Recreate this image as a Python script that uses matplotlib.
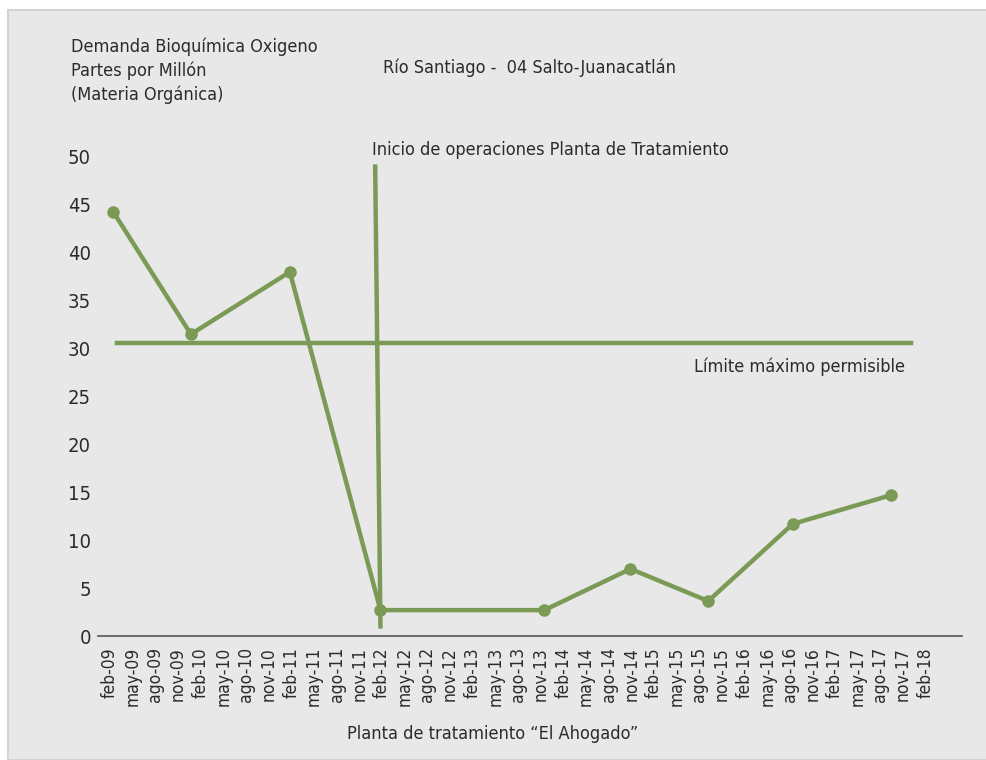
import matplotlib.pyplot as plt
from matplotlib.patches import Rectangle

# datos (x en meses desde feb-09)
meses = [0.4, 10.7, 23.8, 35.8, 57.5, 68.9, 79.2, 90.4, 103.4]
dbo = [44.3, 31.5, 38.0, 2.7, 2.7, 7.0, 3.65, 11.7, 14.7]

limite = 30.6
limite_x = [0.9, 106.0]
inicio_x = [35.1, 35.8]
inicio_y = [49.0, 1.0]

etiquetas = ['feb-09', 'may-09', 'ago-09', 'nov-09',
             'feb-10', 'may-10', 'ago-10', 'nov-10',
             'feb-11', 'may-11', 'ago-11', 'nov-11',
             'feb-12', 'may-12', 'ago-12', 'nov-12',
             'feb-13', 'may-13', 'ago-13', 'nov-13',
             'feb-14', 'may-14', 'ago-14', 'nov-14',
             'feb-15', 'may-15', 'ago-15', 'nov-15',
             'feb-16', 'may-16', 'ago-16', 'nov-16',
             'feb-17', 'may-17', 'ago-17', 'nov-17',
             'feb-18']
yticks = [0, 5, 10, 15, 20, 25, 30, 35, 40, 45, 50]

verde = '#7b9a56'
gris = '#e7e8e7'
texto = '#2b2b2b'

plt.rcParams['font.family'] = ['DejaVu Sans']
plt.rcParams['font.stretch'] = 'condensed'

fig = plt.figure(figsize=(9.87, 7.60), dpi=100, facecolor='white')
fig.patches.append(Rectangle((8 / 987, 0), 1, 1 - 10 / 760, transform=fig.transFigure,
                             facecolor=gris, edgecolor='#d2d3d2', lw=1.5, zorder=-5))

ax = fig.add_axes([98 / 987, (760 - 636) / 760, 864 / 987, (636 - 157) / 760])
ax.set_facecolor('none')
ax.set_xlim(-1.6, 112.8)
ax.set_ylim(0, 50)

ax.plot(meses, dbo, color=verde, lw=3.2, marker='o', ms=8, zorder=3, clip_on=False)
ax.plot(limite_x, [limite, limite], color=verde, lw=3.2, zorder=2)
ax.plot(inicio_x, inicio_y, color=verde, lw=3.2, zorder=2, clip_on=False)

for s in ['top', 'right', 'left']:
    ax.spines[s].set_visible(False)
ax.spines['bottom'].set_color('#555555')
ax.spines['bottom'].set_linewidth(1.2)

ax.set_xticks(range(0, 3 * len(etiquetas), 3))
ax.set_xticklabels(etiquetas, rotation=90, fontsize=12.5, color=texto)
ax.set_yticks(yticks)
ax.set_yticklabels([str(v) for v in yticks], fontsize=14.5, color=texto)
ax.tick_params(axis='both', length=0)
ax.tick_params(axis='x', pad=8)
ax.tick_params(axis='y', pad=5)

fig.text(71 / 987, 1 - 38 / 760, 'Demanda Bioquímica Oxigeno\nPartes por Millón\n(Materia Orgánica)',
         fontsize=13, color=texto, va='top', ha='left', linespacing=1.35)
fig.text(383 / 987, 1 - 68 / 760, 'Río Santiago -  04 Salto-Juanacatlán', fontsize=13,
         color=texto, va='center', ha='left')
fig.text(372 / 987, 1 - 150 / 760, 'Inicio de operaciones Planta de Tratamiento', fontsize=13,
         color=texto, va='center', ha='left')
fig.text(905 / 987, 1 - 367 / 760, 'Límite máximo permisible', fontsize=13,
         color=texto, va='center', ha='right')
fig.text(493 / 987, 1 - 734 / 760, 'Planta de tratamiento “El Ahogado”', fontsize=13,
         color=texto, va='center', ha='center')

fig.savefig('out.png', dpi=100, facecolor=fig.get_facecolor())
